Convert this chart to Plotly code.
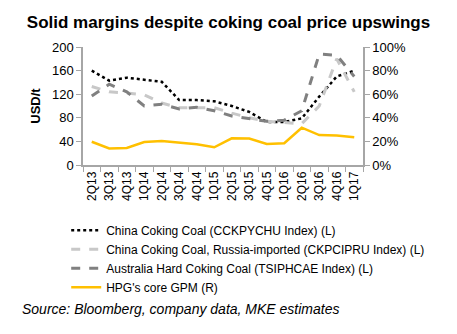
import plotly.graph_objects as go

quarters = ["2Q13","3Q13","4Q13","1Q14","2Q14","3Q14","4Q14","1Q15","2Q15","3Q15","4Q15","1Q16","2Q16","3Q16","4Q16","1Q17"]
china = [160,143,148,145,141,110,110,108,100,90,73,73,79,116,150,160]
russia = [133,124,122,119,105,97,97,97,88,80,74,72,70,100,180,124]
australia = [117,137,124,100,103,95,98,92,83,78,74,76,92,188,186,150]
gpm = [19.7,14,14.5,19.5,20.3,19,17.5,15,22.6,22.5,17.8,18.5,31.6,25.4,25,23.5]

FONT = "Liberation Sans"
fig = go.Figure()
fig.add_trace(go.Scatter(x=quarters, y=china, mode="lines", name="China Coking Coal (CCKPYCHU Index) (L)",
                         line=dict(color="#000000", width=2.5, dash="dot")))
fig.add_trace(go.Scatter(x=quarters, y=russia, mode="lines", name="China Coking Coal, Russia-imported (CKPCIPRU Index) (L)",
                         line=dict(color="#c8c8c8", width=3, dash="dash")))
fig.add_trace(go.Scatter(x=quarters, y=australia, mode="lines", name="Australia Hard Coking Coal (TSIPHCAE Index) (L)",
                         line=dict(color="#808080", width=3, dash="dash")))
fig.add_trace(go.Scatter(x=quarters, y=gpm, mode="lines", name="HPG's core GPM (R)", yaxis="y2",
                         line=dict(color="#FFC000", width=2.5)))

fig.update_layout(
    width=457, height=334,
    margin=dict(l=83, r=94, t=47, b=169),
    paper_bgcolor="white", plot_bgcolor="white",
    font=dict(family=FONT, size=13, color="black"),
    title=dict(text="<b>Solid margins despite coking coal price upswings</b>", x=0.5, xanchor="center",
               y=0.935, yanchor="middle", font=dict(size=17, family=FONT)),
    xaxis=dict(type="category", tickangle=-90, tickson="boundaries", ticks="outside", ticklen=5,
               showline=True, linecolor="#a6a6a6", linewidth=1.5, tickcolor="#a6a6a6",
               showgrid=False, tickfont=dict(size=12), range=[-0.5, 15.5]),
    yaxis=dict(range=[0, 200], dtick=40, ticks="outside", ticklen=5, showline=True, linecolor="#a6a6a6",
               linewidth=1.5, tickcolor="#a6a6a6", showgrid=False, zeroline=False,
               title=dict(text="<b>USD/t</b>", font=dict(size=13), standoff=8)),
    yaxis2=dict(range=[0, 100], dtick=20, ticksuffix="%", overlaying="y", side="right", ticks="outside",
                ticklen=5, showline=True, linecolor="#a6a6a6", linewidth=1.5, tickcolor="#a6a6a6",
                showgrid=False, zeroline=False),
    legend=dict(x=-0.06, xanchor="left", y=-0.43, yanchor="top", font=dict(size=12),
                tracegroupgap=0, itemwidth=30, bgcolor="rgba(0,0,0,0)"),
    showlegend=True,
)
fig.add_annotation(text="<i>Source: Bloomberg, company data, MKE estimates</i>", xref="paper", yref="paper",
                   x=-0.225, xanchor="left", y=-1.22, yanchor="middle", showarrow=False,
                   font=dict(size=14, family=FONT))
fig.write_html("out.html")
